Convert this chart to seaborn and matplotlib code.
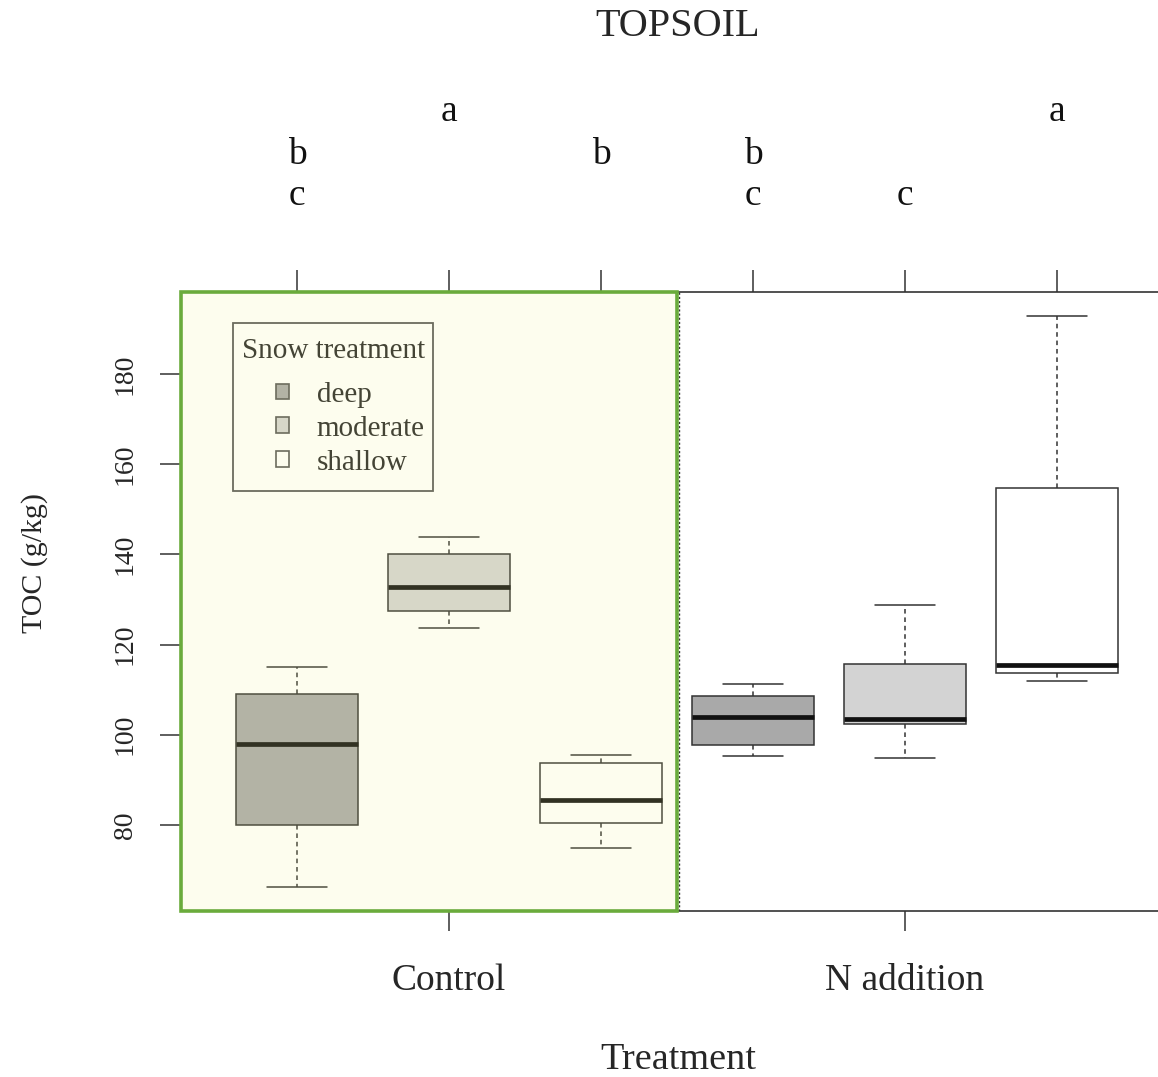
"""TOPSOIL TOC boxplots by N treatment and snow treatment."""

import matplotlib
matplotlib.use("Agg")
import matplotlib.pyplot as plt
import numpy as np
import pandas as pd
import seaborn as sns
from matplotlib.patches import Patch, Rectangle

# five-number readings (min, q1, median, q3, max) per box
groups = ["Control", "N addition"]
snow_levels = ["deep", "moderate", "shallow"]
deep_control = [66.3, 80.0, 98.0, 109.0, 115.0]
moderate_control = [123.7, 127.5, 132.8, 140.1, 143.9]
shallow_control = [74.9, 80.4, 85.5, 93.7, 95.5]
deep_n = [95.3, 97.7, 104.0, 108.6, 111.3]
moderate_n = [94.9, 102.4, 103.5, 115.7, 128.8]
shallow_n = [111.9, 113.7, 115.5, 154.7, 192.9]
letters = ["bc", "a", "b", "bc", "c", "a"]
yticks = [80, 100, 120, 140, 160, 180]

palette = {"deep": "#a9a9a9", "moderate": "#d3d3d3", "shallow": "#ffffff"}
INK = "#333333"


def build_frame() -> pd.DataFrame:
    series = [
        ("Control", "deep", deep_control),
        ("Control", "moderate", moderate_control),
        ("Control", "shallow", shallow_control),
        ("N addition", "deep", deep_n),
        ("N addition", "moderate", moderate_n),
        ("N addition", "shallow", shallow_n),
    ]
    rows = []
    for treat, snow, vals in series:
        for v in vals:
            rows.append({"box": f"{treat}-{snow}", "treatment": treat, "snow": snow, "toc": v})
    return pd.DataFrame(rows)


def main() -> None:
    sns.set_theme(style="white")
    plt.rcParams["font.family"] = ["Liberation Serif", "DejaVu Serif"]

    df = build_frame()
    order = [f"{t}-{s}" for t in groups for s in snow_levels]

    fig = plt.figure(figsize=(11.58, 10.77), dpi=100)
    ax = fig.add_axes([181 / 1158, 1 - 911 / 1077, 1 - 181 / 1158, 619 / 1077])

    sns.boxplot(
        data=df, x="box", y="toc", hue="snow", order=order, hue_order=snow_levels,
        palette=palette, dodge=False, width=0.8, whis=np.inf, saturation=1,
        linecolor=INK, linewidth=1.1, legend=False, ax=ax,
        medianprops={"color": "#111111", "linewidth": 3.4},
        whiskerprops={"linestyle": (0, (3, 2.5))},
    )

    ax.set_xlim(-0.763, 5.664)
    ax.set_ylim(60.9, 198.2)

    # shaded Control panel (tint drawn over the boxes)
    ax.add_patch(Rectangle((-0.763, 60.9), 2.5 + 0.763, 198.2 - 60.9,
                           facecolor=(0.95, 0.95, 0.56, 0.15), edgecolor="#6aab3c",
                           linewidth=2.6, zorder=6, clip_on=False))
    ax.axvline(2.51, color=INK, linestyle=(0, (1.5, 1.5)), linewidth=1, zorder=5)

    # axes frame
    for side in ["left", "right"]:
        ax.spines[side].set_visible(False)
    for side in ["top", "bottom"]:
        ax.spines[side].set_color(INK)
        ax.spines[side].set_linewidth(1.2)

    ax.set_xticks([1, 4])
    ax.set_xticklabels(groups, fontsize=27)
    ax.set_yticks(yticks)
    ax.set_yticklabels([str(v) for v in yticks], rotation=90, va="center", fontsize=20)
    ax.tick_params(axis="x", length=14.5, width=1.1, color=INK, pad=23, bottom=True)
    ax.tick_params(axis="y", length=15, width=1.1, color=INK, pad=16, left=True)
    ax.set_xlabel("")
    ax.set_ylabel("")

    top = ax.secondary_xaxis("top")
    top.set_xticks(range(6))
    top.set_xticklabels([""] * 6)
    top.tick_params(length=16, width=1.1, color=INK)
    top.spines["top"].set_visible(False)

    # significance letters above each box
    row_y = {"a": 1.291, "b": 1.221, "c": 1.155}
    for i, lab in enumerate(letters):
        for ch in lab:
            ax.text(i, row_y[ch], ch, transform=ax.get_xaxis_transform(),
                    ha="center", va="center", fontsize=27, color="#111111")

    # legend: frame drawn separately so its size can match the original
    ax.add_patch(Rectangle((52 / 977, (911 - 491) / 619), 200 / 977, 168 / 619,
                           transform=ax.transAxes, facecolor="white", edgecolor="#555555",
                           linewidth=1.3, zorder=3.9))
    handles = [Patch(facecolor=palette[s], edgecolor="#555555", linewidth=1.2, label=s)
               for s in snow_levels]
    leg = ax.legend(handles=handles, title="Snow treatment", loc="upper left",
                    bbox_to_anchor=(52 / 977, 1 - 37 / 619), borderaxespad=0,
                    fontsize=21, title_fontsize=21, alignment="right", frameon=False,
                    handlelength=0.45, handleheight=0.45, handletextpad=0.95,
                    labelspacing=0.27, borderpad=0.3)
    leg._legend_box.sep = 13
    leg.set_zorder(4)

    fig.text(678 / 1158, 1 - 27 / 1077, "TOPSOIL", ha="center", va="center", fontsize=29)
    fig.text(678 / 1158, 1 - 1060 / 1077, "Treatment", ha="center", va="center", fontsize=27.5)
    fig.text(35 / 1158, 1 - 563 / 1077, "TOC (g/kg)", ha="center", va="center",
             rotation=90, fontsize=21.5)

    fig.savefig("out.png", dpi=100)
    plt.close(fig)


if __name__ == "__main__":
    main()
